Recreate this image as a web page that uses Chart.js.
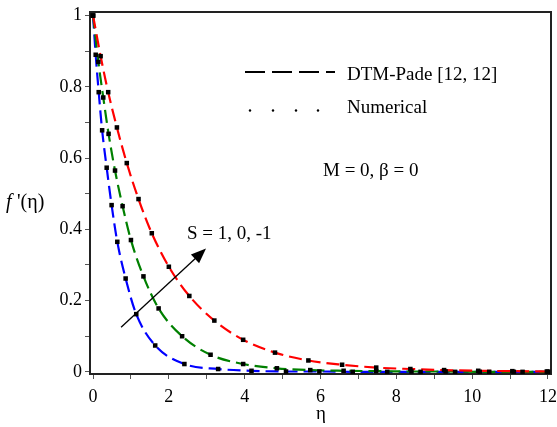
<!DOCTYPE html>
<html>
<head>
<meta charset="utf-8">
<script src="https://cdn.jsdelivr.net/npm/chart.js@4.4.1/dist/chart.umd.min.js"></script>
<style>
  body { margin: 0; background: #ffffff; }
  canvas { display: block; }
</style>
</head>
<body>
<canvas id="chart" width="557" height="427"></canvas>
<script>
// f'(eta), one curve per suction value S
var etaS1 = [0, 0.07, 0.15, 0.24, 0.36, 0.49, 0.64, 0.86, 1.14, 1.64, 2.41, 3.3, 4.18, 5.09, 5.97, 6.85, 7.76, 8.64, 9.55, 10.45, 11.33, 12];
var fS1 = [1, 0.89, 0.785, 0.678, 0.573, 0.468, 0.365, 0.262, 0.162, 0.074, 0.022, 0.008, 0.003, 0.001, 0.001, 0, 0, 0, 0, 0, 0, 0];

var etaS0 = [0, 0.14, 0.27, 0.41, 0.58, 0.78, 1.0, 1.33, 1.73, 2.35, 3.1, 3.96, 4.85, 5.73, 6.61, 7.47, 8.4, 9.3, 10.2, 11.1, 12];
var fS0 = [1, 0.87, 0.77, 0.668, 0.565, 0.465, 0.37, 0.268, 0.178, 0.1, 0.048, 0.022, 0.01, 0.005, 0.003, 0.002, 0.001, 0.001, 0, 0, 0];

var etaSm1 = [0, 0.2, 0.4, 0.63, 0.89, 1.2, 1.55, 2.0, 2.54, 3.2, 3.96, 4.8, 5.68, 6.57, 7.47, 8.37, 9.26, 10.16, 11.06, 11.97];
var fSm1 = [1, 0.886, 0.785, 0.686, 0.586, 0.485, 0.389, 0.295, 0.213, 0.144, 0.09, 0.054, 0.032, 0.02, 0.012, 0.008, 0.005, 0.003, 0.002, 0.001];

var xTickLabels = [0, 2, 4, 6, 8, 10, 12];
var yTickLabels = [0, 0.2, 0.4, 0.6, 0.8, 1];

// arrow for "S = 1, 0, -1", in data units
var arrowFrom = [0.74, 0.125];
var arrowTo = [2.98, 0.346];

var serif = "'Liberation Serif', 'DejaVu Serif', serif";
var X_MIN = -0.08, X_MAX = 12.08, Y_MIN = -0.006, Y_MAX = 1.01;

function toPoints(xs, ys) {
    var pts = [];
    for (var i = 0; i < xs.length; i++) {
        pts.push({ x: xs[i], y: ys[i] });
    }
    return pts;
}

function curve(xs, ys, color, order) {
    return {
        data: toPoints(xs, ys),
        showLine: true,
        borderColor: color,
        borderWidth: 2.2,
        borderDash: [13, 6],
        cubicInterpolationMode: "monotone",
        pointRadius: 0,
        order: order
    };
}

function markers(xs, ys) {
    return {
        data: toPoints(xs, ys),
        showLine: false,
        pointStyle: "rect",
        pointRadius: 3.2,
        pointBackgroundColor: "#000000",
        pointBorderWidth: 0,
        order: 0
    };
}

function isLabelled(list, value) {
    for (var i = 0; i < list.length; i++) {
        if (Math.abs(list[i] - value) < 1e-6) return true;
    }
    return false;
}

// only the frame edge, no ticks or labels
function frameEdge(position, min, max) {
    return {
        type: "linear",
        position: position,
        min: min,
        max: max,
        afterFit: function (scale) {
            if (position === "top") scale.height = 0; else scale.width = 0;
            scale.paddingLeft = 0; scale.paddingRight = 0;
            scale.paddingTop = 0; scale.paddingBottom = 0;
        },
        border: { display: true, color: "#222222", width: 2 },
        grid: { display: false },
        ticks: { display: false }
    };
}

var annotations = {
    id: "annotations",
    afterDraw: function (chart) {
        var ctx = chart.ctx;
        var xs = chart.scales.x;
        var ys = chart.scales.y;
        ctx.save();

        // arrow
        ctx.strokeStyle = "#000000";
        ctx.fillStyle = "#000000";
        var x0 = xs.getPixelForValue(arrowFrom[0]);
        var y0 = ys.getPixelForValue(arrowFrom[1]);
        var x1 = xs.getPixelForValue(arrowTo[0]);
        var y1 = ys.getPixelForValue(arrowTo[1]);
        var ang = Math.atan2(y1 - y0, x1 - x0);
        var head = 15;
        ctx.lineWidth = 1.3;
        ctx.beginPath();
        ctx.moveTo(x0, y0);
        ctx.lineTo(x1 - head * 0.8 * Math.cos(ang), y1 - head * 0.8 * Math.sin(ang));
        ctx.stroke();
        ctx.beginPath();
        ctx.moveTo(x1, y1);
        ctx.lineTo(x1 - head * Math.cos(ang) + 6 * Math.sin(ang), y1 - head * Math.sin(ang) - 6 * Math.cos(ang));
        ctx.lineTo(x1 - head * Math.cos(ang) - 6 * Math.sin(ang), y1 - head * Math.sin(ang) + 6 * Math.cos(ang));
        ctx.closePath();
        ctx.fill();

        // legend
        ctx.lineWidth = 2;
        ctx.setLineDash([20, 7]);
        ctx.beginPath();
        ctx.moveTo(245, 72);
        ctx.lineTo(335, 72);
        ctx.stroke();
        ctx.setLineDash([]);
        [250, 273, 296, 318].forEach(function (px) {
            ctx.beginPath();
            ctx.arc(px, 110.5, 1.2, 0, Math.PI * 2);
            ctx.fill();
        });

        ctx.font = "19px " + serif;
        ctx.textAlign = "left";
        ctx.textBaseline = "alphabetic";
        ctx.fillText("DTM-Pade [12, 12]", 347, 80);
        ctx.fillText("Numerical", 347, 113);
        ctx.fillText("M = 0, \u03b2 = 0", 323, 176);
        ctx.fillText("S = 1, 0, -1", 187, 239);

        // axis titles
        ctx.textAlign = "center";
        ctx.fillText("\u03b7", 321, 419);
        ctx.textAlign = "left";
        ctx.font = "italic 20px " + serif;
        ctx.fillText("f", 6, 208);
        ctx.font = "20px " + serif;
        ctx.fillText("'(\u03b7)", 17, 208);

        ctx.restore();
    }
};

var ctx = document.getElementById("chart").getContext("2d");

new Chart(ctx, {
    type: "scatter",
    data: {
        datasets: [
            curve(etaS1, fS1, "#0000ff", 3),
            curve(etaS0, fS0, "#008000", 2),
            curve(etaSm1, fSm1, "#ff0000", 1),
            markers(etaS1, fS1),
            markers(etaS0, fS0),
            markers(etaSm1, fSm1)
        ]
    },
    options: {
        responsive: false,
        animation: false,
        layout: {
            padding: { top: 12, right: 6, left: 0, bottom: 0 }
        },
        plugins: {
            legend: { display: false },
            tooltip: { enabled: false }
        },
        scales: {
            x: {
                type: "linear",
                position: "bottom",
                min: X_MIN,
                max: X_MAX,
                afterFit: function (scale) {
                    scale.height = 53;
                    scale.paddingLeft = 0;
                    scale.paddingRight = 0;
                },
                border: { display: true, color: "#222222", width: 2 },
                grid: { drawOnChartArea: false, drawTicks: true, tickLength: 5, color: "#555555" },
                ticks: {
                    stepSize: 1,
                    includeBounds: false,
                    autoSkip: false,
                    maxRotation: 0,
                    padding: 7,
                    color: "#000000",
                    font: { family: serif, size: 18 },
                    callback: function (value) {
                        return isLabelled(xTickLabels, value) ? String(value) : "";
                    }
                }
            },
            y: {
                type: "linear",
                position: "left",
                min: Y_MIN,
                max: Y_MAX,
                afterFit: function (scale) {
                    scale.width = 90;
                    scale.paddingTop = 0;
                    scale.paddingBottom = 0;
                },
                border: { display: true, color: "#222222", width: 2 },
                grid: { drawOnChartArea: false, drawTicks: true, tickLength: 5, color: "#555555" },
                ticks: {
                    stepSize: 0.1,
                    includeBounds: false,
                    autoSkip: false,
                    padding: 3,
                    color: "#000000",
                    font: { family: serif, size: 18 },
                    callback: function (value) {
                        var v = Math.round(value * 10) / 10;
                        return isLabelled(yTickLabels, v) ? String(v) : "";
                    }
                }
            },
            x2: frameEdge("top", X_MIN, X_MAX),
            y2: frameEdge("right", Y_MIN, Y_MAX)
        }
    },
    plugins: [annotations]
});
</script>
</body>
</html>
